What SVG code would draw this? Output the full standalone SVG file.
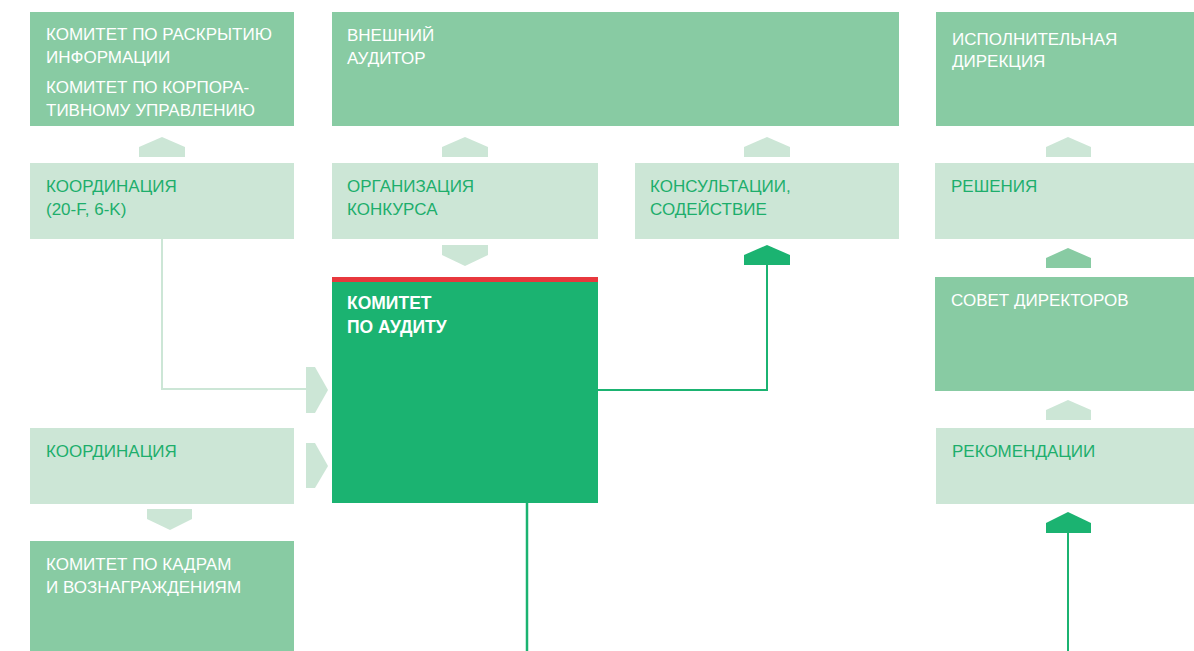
<svg xmlns="http://www.w3.org/2000/svg" width="1194" height="651" viewBox="0 0 1194 651">
<style>
.med{fill:#88cba3}
.lt{fill:#cce6d6}
.dk{fill:#1bb371}
.t{font-family:"Liberation Sans",Arial,sans-serif;font-size:17px}
.tw{fill:#ffffff}
.tg{fill:#1dae6c}
.b{font-weight:bold;font-size:17.5px}
</style>
<rect width="1194" height="651" fill="#ffffff"/>
<g id="connectors">
<polyline points="162,239 162,389 306,389" fill="none" stroke="#cce6d6" stroke-width="2"/>
<polyline points="598,390 767,390 767,265" fill="none" stroke="#1bb371" stroke-width="2"/>
<line x1="527" y1="503" x2="527" y2="651" stroke="#1bb371" stroke-width="2.5"/>
<line x1="1068" y1="532" x2="1068" y2="651" stroke="#1bb371" stroke-width="2"/>
<polygon class="lt" points="139,157 139,147 162,137 185,147 185,157"/>
<polygon class="lt" points="442,157 442,147 465,137 488,147 488,157"/>
<polygon class="lt" points="442,245 488,245 488,255 465,266 442,255"/>
<polygon class="lt" points="744,157 744,147 767,137 790,147 790,157"/>
<polygon class="dk" points="744,265 744,255 767,245 790,255 790,265"/>
<polygon class="lt" points="1046,157 1046,147 1068,137 1091,147 1091,157"/>
<polygon class="med" points="1046,268 1046,258 1068,248 1091,258 1091,268"/>
<polygon class="lt" points="1046,420 1046,410 1068,400 1091,410 1091,420"/>
<polygon class="dk" points="1046,533 1046,523 1068,512 1091,523 1091,533"/>
<polygon class="lt" points="147,509 192,509 192,519 170,530 147,519"/>
<polygon class="lt" points="306,367 315,367 328,390 315,413 306,413"/>
<polygon class="lt" points="306,443 315,443 328,466 315,488 306,488"/>
</g>
<g id="disclosure">
<rect class="med" x="30" y="12" width="264" height="114"/>
<text class="t tw" x="46" y="40">КОМИТЕТ ПО РАСКРЫТИЮ</text>
<text class="t tw" x="46" y="63">ИНФОРМАЦИИ</text>
<text class="t tw" x="46" y="93">КОМИТЕТ ПО КОРПОРА-</text>
<text class="t tw" x="46" y="116">ТИВНОМУ УПРАВЛЕНИЮ</text>
</g>
<g id="coordination1">
<rect class="lt" x="30" y="163" width="264" height="76"/>
<text class="t tg" x="46" y="192">КООРДИНАЦИЯ</text>
<text class="t tg" x="46" y="215">(20-F, 6-K)</text>
</g>
<g id="auditor">
<rect class="med" x="332" y="12" width="567" height="114"/>
<text class="t tw" x="347" y="41">ВНЕШНИЙ</text>
<text class="t tw" x="347" y="64">АУДИТОР</text>
</g>
<g id="tender">
<rect class="lt" x="332" y="163" width="266" height="76"/>
<text class="t tg" x="347" y="192">ОРГАНИЗАЦИЯ</text>
<text class="t tg" x="347" y="215">КОНКУРСА</text>
</g>
<g id="consult">
<rect class="lt" x="635" y="163" width="264" height="76"/>
<text class="t tg" x="650" y="192">КОНСУЛЬТАЦИИ,</text>
<text class="t tg" x="650" y="215">СОДЕЙСТВИЕ</text>
</g>
<g id="audit">
<rect x="332" y="277" width="266" height="5" fill="#e8383d"/>
<rect class="dk" x="332" y="282" width="266" height="221"/>
<text class="t tw b" x="347" y="309">КОМИТЕТ</text>
<text class="t tw b" x="347" y="333">ПО АУДИТУ</text>
</g>
<g id="executive">
<rect class="med" x="936" y="12" width="258" height="114"/>
<text class="t tw" x="952" y="45">ИСПОЛНИТЕЛЬНАЯ</text>
<text class="t tw" x="952" y="67">ДИРЕКЦИЯ</text>
</g>
<g id="decisions">
<rect class="lt" x="935" y="163" width="259" height="76"/>
<text class="t tg" x="951" y="192">РЕШЕНИЯ</text>
</g>
<g id="board">
<rect class="med" x="935" y="277" width="259" height="114"/>
<text class="t tw" x="951" y="306">СОВЕТ ДИРЕКТОРОВ</text>
</g>
<g id="recommend">
<rect class="lt" x="936" y="428" width="258" height="76"/>
<text class="t tg" x="952" y="457">РЕКОМЕНДАЦИИ</text>
</g>
<g id="coordination2">
<rect class="lt" x="30" y="428" width="264" height="76"/>
<text class="t tg" x="46" y="457">КООРДИНАЦИЯ</text>
</g>
<g id="hr">
<rect class="med" x="30" y="541" width="264" height="110"/>
<text class="t tw" x="46" y="570">КОМИТЕТ ПО КАДРАМ</text>
<text class="t tw" x="46" y="593">И ВОЗНАГРАЖДЕНИЯМ</text>
</g>
</svg>
